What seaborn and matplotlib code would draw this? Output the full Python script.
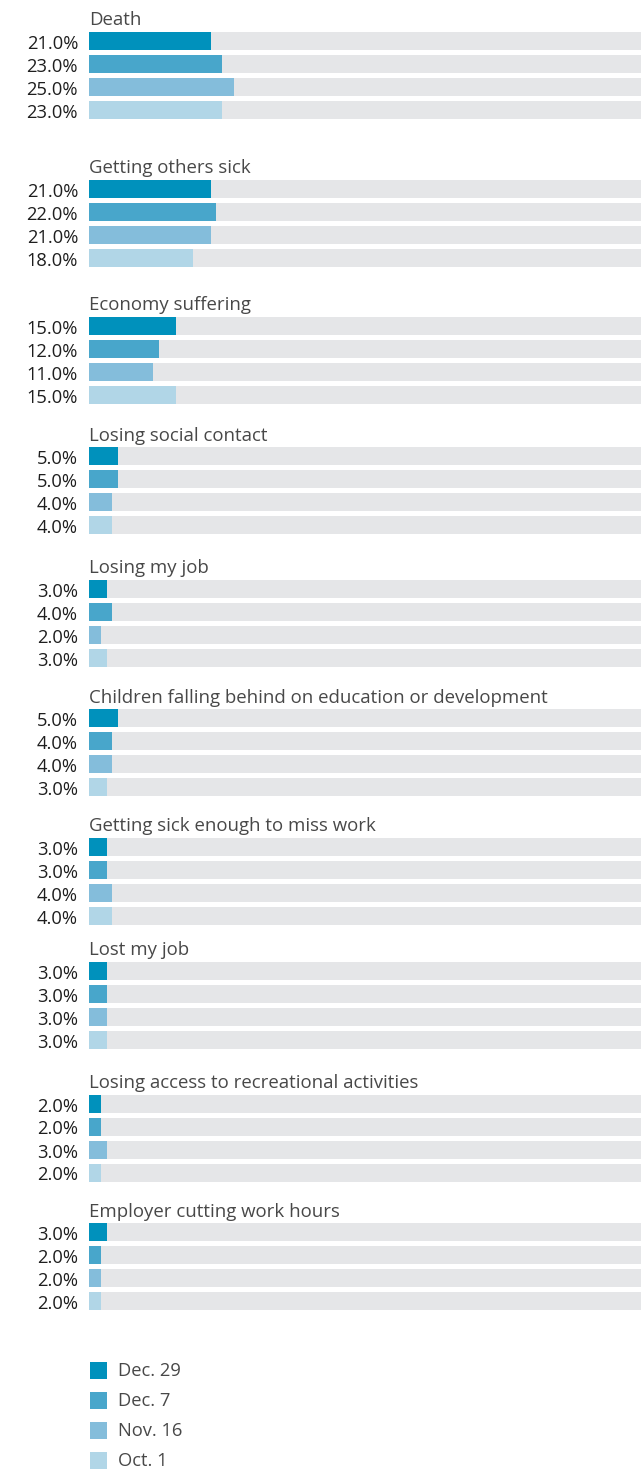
import numpy as np
import pandas as pd
import matplotlib
matplotlib.use("Agg")
import matplotlib.pyplot as plt
import seaborn as sns

# --- data -------------------------------------------------------------
categories = [
    "Death",
    "Getting others sick",
    "Economy suffering",
    "Losing social contact",
    "Losing my job",
    "Children falling behind on education or development",
    "Getting sick enough to miss work",
    "Lost my job",
    "Losing access to recreational activities",
    "Employer cutting work hours",
]
dates = ["Dec. 29", "Dec. 7", "Nov. 16", "Oct. 1"]
dec29 = [21, 21, 15, 5, 3, 5, 3, 3, 2, 3]
dec7 = [23, 22, 12, 5, 4, 4, 3, 3, 2, 2]
nov16 = [25, 21, 11, 4, 2, 4, 4, 3, 3, 2]
oct1 = [23, 18, 15, 4, 3, 3, 4, 3, 2, 2]
palette = ["#0091bc", "#48a6cb", "#84bddb", "#b1d6e7"]
track_color = "#e5e6e8"

# --- layout (pixels) --------------------------------------------------
W, H = 641, 1469
group_tops = [31.7, 180, 316.7, 447.3, 580, 709.3, 838, 962, 1094.7, 1223.3]
pitch, bar_h = 23, 18
x0_px = 89.3
px_per_pct = 5.78
fs = 13.2
fs_title = 13.4

series = [dec29, dec7, nov16, oct1]
rows = []
for g, cat in enumerate(categories):
    for s, d in enumerate(dates):
        rows.append({"category": cat, "date": d, "value": series[s][g],
                     "pos": group_tops[g] + s * pitch + bar_h / 2})
df = pd.DataFrame(rows)
df["track"] = 100.0

sns.set_theme(style="white")
plt.rcParams["font.family"] = ["Open Sans", "DejaVu Sans"]

fig = plt.figure(figsize=(W / 100, H / 100), dpi=100)
ax = fig.add_axes([x0_px / W, 0, 1 - x0_px / W, 1])
ax.set_xlim(0, (W - x0_px) / px_per_pct)
ax.set_ylim(H, 0)

common = dict(y="pos", orient="h", native_scale=True, width=bar_h / pitch,
              errorbar=None, ax=ax, linewidth=0)
sns.barplot(data=df, x="track", color=track_color, **common)
sns.barplot(data=df, x="value", hue="date", hue_order=dates,
            palette=palette, dodge=False, legend=False, saturation=1, **common)
ax.set_ylim(H, 0)
ax.set_axis_off()

# overlay in pixel coordinates for text and legend
lay = fig.add_axes([0, 0, 1, 1], facecolor="none")
lay.set_xlim(0, W)
lay.set_ylim(H, 0)
lay.set_axis_off()

for g, cat in enumerate(categories):
    lay.text(x0_px, group_tops[g] - 6.7, cat, ha="left", va="baseline",
             fontsize=fs_title, color="#484848")
    for s in range(len(dates)):
        yc = group_tops[g] + s * pitch + bar_h / 2
        lay.text(78, yc + 7.8, f"{series[s][g]:.1f}%", ha="right",
                 va="baseline", fontsize=fs, color="#1e1e1e")

for s, d in enumerate(dates):
    yc = 1370.5 + s * 30
    lay.add_patch(plt.Rectangle((90, yc - 8.5), 17, 17, color=palette[s], lw=0))
    lay.text(118, yc + 5.5, d, ha="left", va="baseline", fontsize=fs,
             color="#484848")

fig.savefig("out.png", dpi=100)
